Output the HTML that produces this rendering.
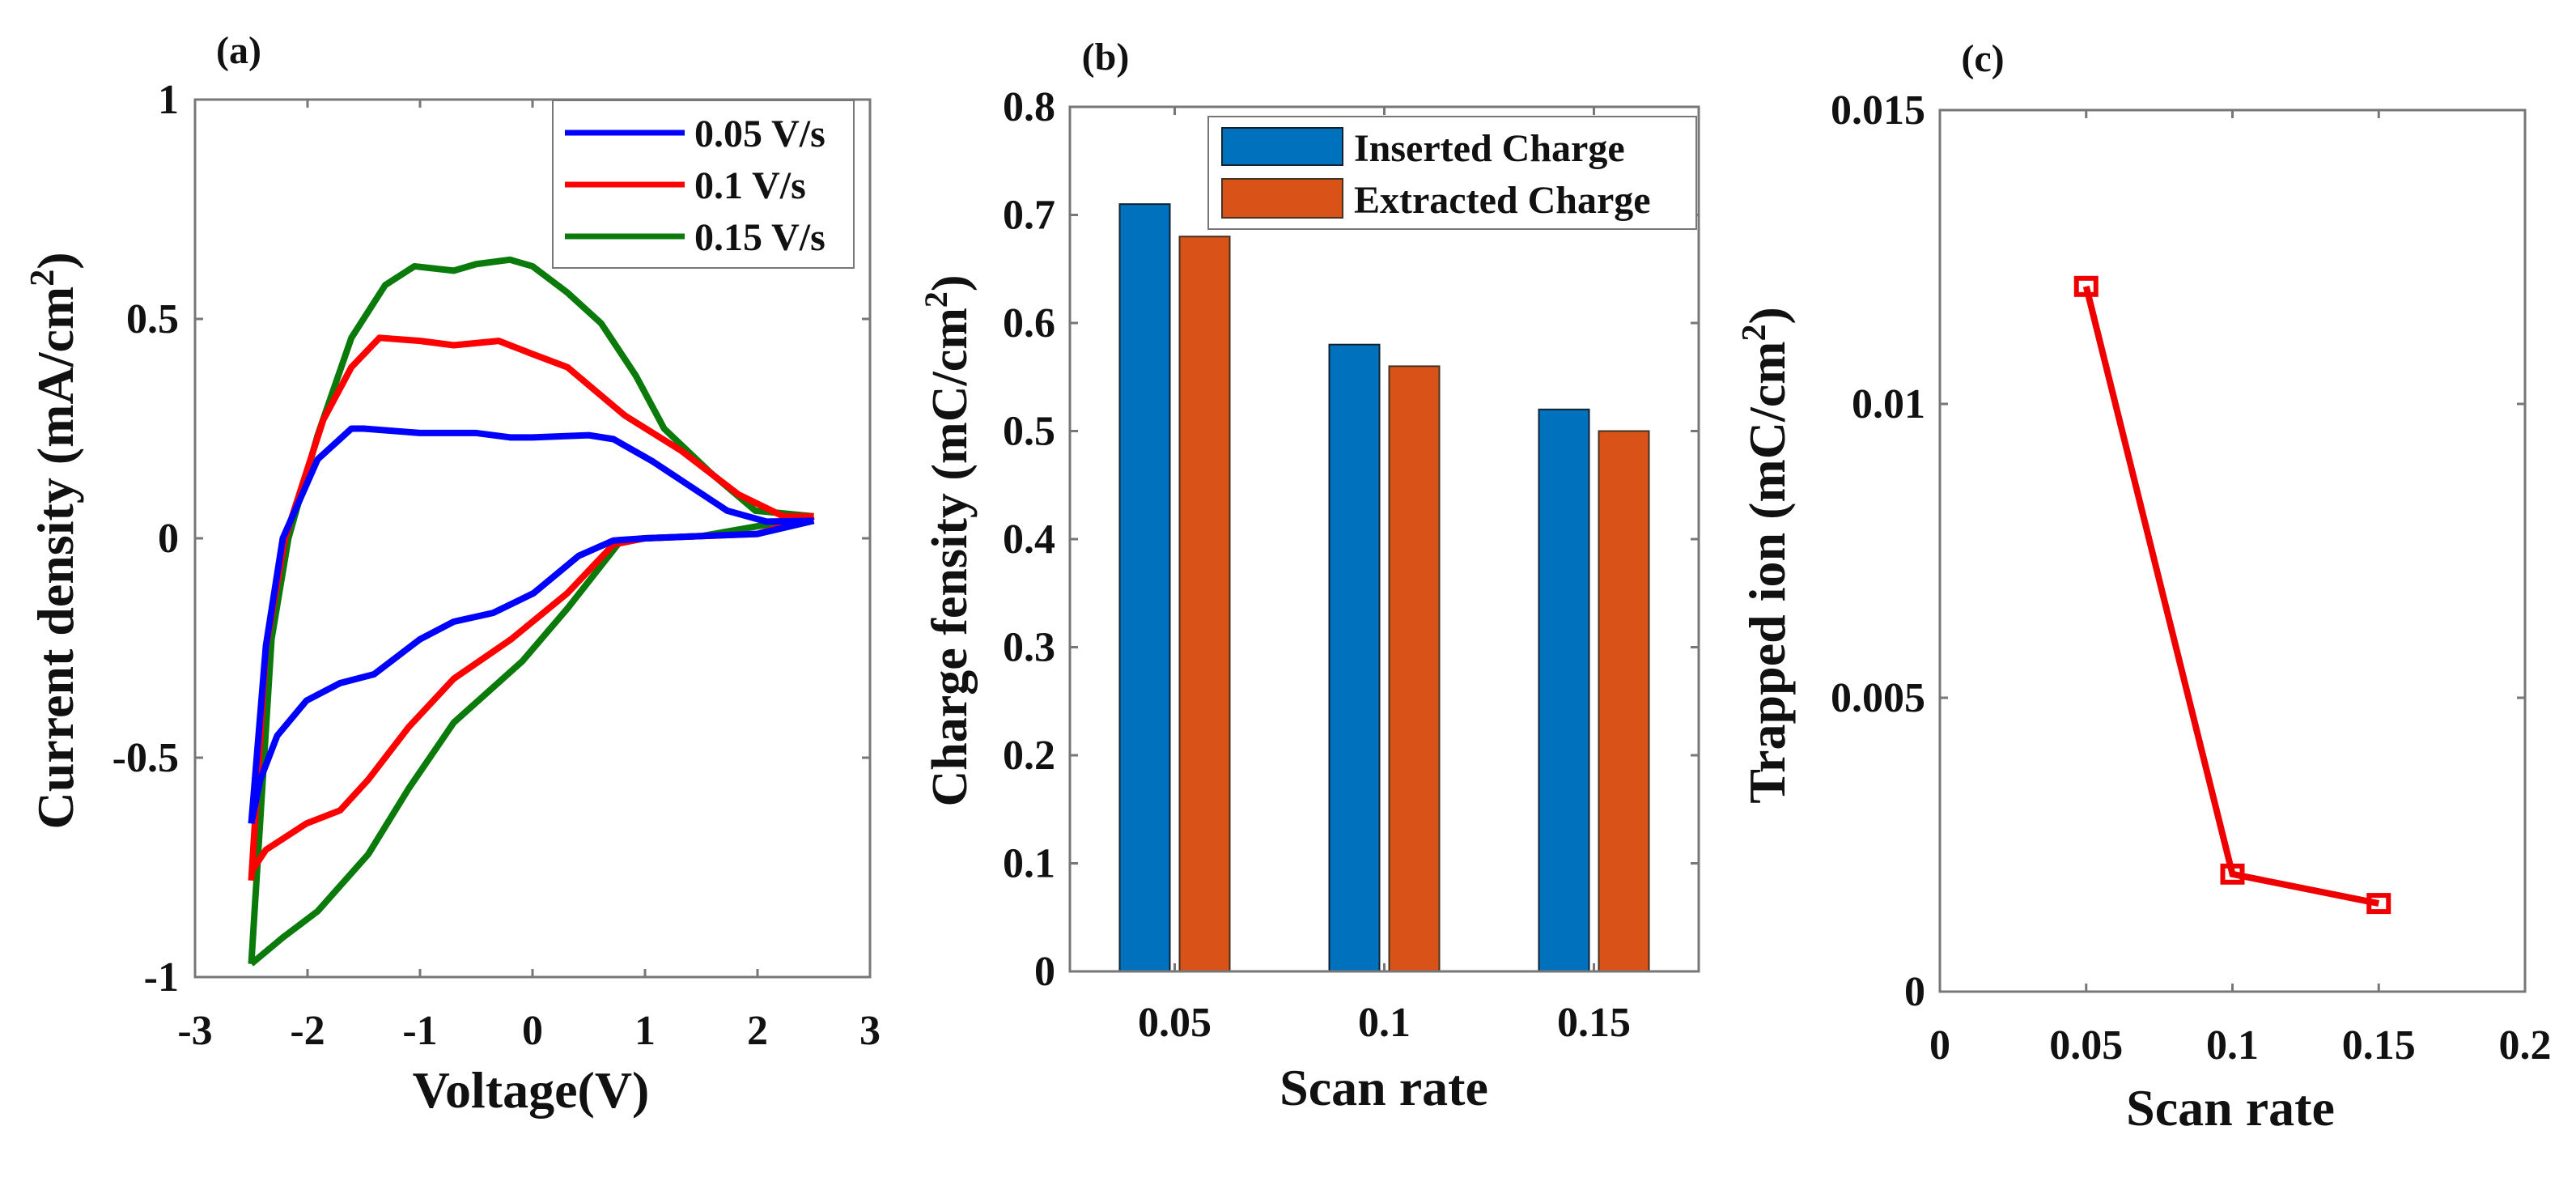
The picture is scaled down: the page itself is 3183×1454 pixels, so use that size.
<!DOCTYPE html>
<html><head><meta charset="utf-8"><style>
html,body{margin:0;padding:0;background:#fff;}
svg{display:block;}
text{font-family:"Liberation Serif",serif;font-weight:bold;fill:#111;}
</style></head><body>
<svg id="fig" width="3183" height="1454" xmlns="http://www.w3.org/2000/svg"></svg>
<script>
// ---- Panel (a) CV data ----
const blueUpV=[-2.5,-2.37,-2.22,-1.91,-1.61,-1.5,-1.0,-0.5,-0.2,0,0.5,0.72,1.07,1.73,2.08,2.5];
const blueUpI=[-0.65,-0.245,0,0.18,0.25,0.25,0.24,0.24,0.23,0.23,0.235,0.226,0.175,0.063,0.038,0.04];
const blueDnV=[2.5,2.0,1.5,1.0,0.72,0.41,0.01,-0.35,-0.7,-1.0,-1.41,-1.71,-2.01,-2.27,-2.42,-2.5];
const blueDnI=[0.04,0.01,0.005,0,-0.005,-0.04,-0.125,-0.17,-0.19,-0.23,-0.31,-0.33,-0.37,-0.45,-0.55,-0.65];
const redUpV=[-2.5,-2.37,-2.2,-1.86,-1.61,-1.36,-1.0,-0.7,-0.3,0,0.31,0.82,1.32,1.83,2.23,2.5];
const redUpI=[-0.78,-0.25,0,0.27,0.39,0.457,0.45,0.44,0.45,0.42,0.39,0.28,0.2,0.1,0.05,0.05];
const redDnV=[2.5,2.0,1.5,1.0,0.72,0.31,-0.19,-0.7,-1.1,-1.46,-1.71,-2.01,-2.37,-2.5];
const redDnI=[0.05,0.01,0.005,0,-0.014,-0.125,-0.23,-0.32,-0.43,-0.55,-0.62,-0.65,-0.71,-0.76];
const grnUpV=[-2.5,-2.32,-2.17,-1.91,-1.61,-1.31,-1.05,-0.7,-0.5,-0.2,0,0.31,0.61,0.92,1.17,1.58,1.98,2.5];
const grnUpI=[-0.97,-0.23,0,0.235,0.457,0.577,0.62,0.61,0.625,0.635,0.62,0.56,0.49,0.37,0.25,0.15,0.063,0.05];
const grnDnV=[2.5,1.5,1.0,0.77,0.31,-0.09,-0.7,-1.1,-1.46,-1.91,-2.22,-2.5];
const grnDnI=[0.05,0.005,0,-0.01,-0.16,-0.28,-0.42,-0.57,-0.72,-0.85,-0.91,-0.97];
const aXTicks=[-3,-2,-1,0,1,2,3];
const aYTicks=[-1,-0.5,0,0.5,1];
const aYTickLabels=["-1","-0.5","0","0.5","1"];
const aLegend=["0.05 V/s","0.1 V/s","0.15 V/s"];
// ---- Panel (b) bar data ----
const bCategories=["0.05","0.1","0.15"];
const insertedCharge=[0.71,0.58,0.52];
const extractedCharge=[0.68,0.56,0.50];
const bYTicks=[0,0.1,0.2,0.3,0.4,0.5,0.6,0.7,0.8];
// ---- Panel (c) data ----
const cX=[0.05,0.1,0.15];
const cY=[0.012,0.002,0.0015];
const cXTicks=[0,0.05,0.1,0.15,0.2];
const cXTickLabels=["0","0.05","0.1","0.15","0.2"];
const cYTicks=[0,0.005,0.01,0.015];
const cYTickLabels=["0","0.005","0.01","0.015"];

const NS="http://www.w3.org/2000/svg";
const svg=document.getElementById('fig');
function el(tag,attrs,parent){const e=document.createElementNS(NS,tag);for(const k in attrs)e.setAttribute(k,attrs[k]);(parent||svg).appendChild(e);return e;}
function txt(s,x,y,size,anchor,parent){const t=el('text',{x:x,y:y,'font-size':size,'text-anchor':anchor||'middle'},parent);t.textContent=s;return t;}
function lin(d0,d1,p0,p1){return v=>p0+(v-d0)/(d1-d0)*(p1-p0);}
function box(L,T,R,B,sx,sy,xt,yt,g){
  el('rect',{x:L,y:T,width:R-L,height:B-T,fill:'none',stroke:'#777','stroke-width':3},g);
  xt.forEach(v=>{const x=sx(v);el('line',{x1:x,y1:B,x2:x,y2:B-10,stroke:'#777','stroke-width':3},g);el('line',{x1:x,y1:T,x2:x,y2:T+10,stroke:'#777','stroke-width':3},g);});
  yt.forEach(v=>{const y=sy(v);el('line',{x1:L,y1:y,x2:L+10,y2:y,stroke:'#777','stroke-width':3},g);el('line',{x1:R,y1:y,x2:R-10,y2:y,stroke:'#777','stroke-width':3},g);});
}
const TS=52;
// ===== Panel A =====
const gA=el('g',{});


const aL=241,aR=1075,aT=123,aB=1207;
const axA=lin(-3,3,aL,aR), ayA=lin(-1,1,aB,aT);
box(aL,aT,aR,aB,axA,ayA,aXTicks,aYTicks,gA);
aXTicks.forEach(v=>{const t=txt(String(v),axA(v),1290,TS,'middle',gA);});
aYTicks.forEach((v,i)=>{const t=txt(aYTickLabels[i],aL-20,ayA(v)+17,TS,'end',gA);});
function curve(vs,is,color,name){
  const p=el('polyline',{points:vs.map((v,i)=>axA(v)+','+ayA(is[i])).join(' '),fill:'none',stroke:color,'stroke-width':8,'stroke-linejoin':'round'},gA);
  
  
}
curve(grnUpV,grnUpI,'#0a7a0a','cv-0.15-forward');curve(grnDnV,grnDnI,'#0a7a0a','cv-0.15-reverse');
curve(redUpV,redUpI,'#f00','cv-0.1-forward');curve(redDnV,redDnI,'#f00','cv-0.1-reverse');
curve(blueUpV,blueUpI,'#00f','cv-0.05-forward');curve(blueDnV,blueDnI,'#00f','cv-0.05-reverse');
const legA=el('g',{},gA);


el('rect',{x:683,y:124,width:372,height:207,fill:'#fff',stroke:'#777','stroke-width':2},legA);
const legCols=['#00f','#f00','#0a7a0a'];
aLegend.forEach((s,i)=>{const y=164+i*64;el('line',{x1:698,y1:y,x2:846,y2:y,stroke:legCols[i],'stroke-width':7},legA);const t=txt(s,858,y+17,48,'start',legA);});
let t;
t=txt('(a)',295,78,48,'middle',gA);
t=txt('Voltage(V)',656,1368,64,'middle',gA);
t=el('text',{x:90,y:668,'font-size':64,'text-anchor':'middle',transform:'rotate(-90 90 668)'},gA);
t.innerHTML='Current density (mA/cm<tspan dy="-24" font-size="42">2</tspan><tspan dy="24">)</tspan>';


// ===== Panel B =====
const gB=el('g',{});


const bL=1322,bR=2099,bT=132,bB=1200;
const axB=lin(0.5,3.5,bL,bR), ayB=lin(0,0.8,bB,bT);
const bw=62, off=37;
insertedCharge.forEach((v,i)=>{const r=el('rect',{x:axB(i+1)-off-bw/2,y:ayB(v),width:bw,height:ayB(0)-ayB(v),fill:'#0072bd',stroke:'#123','stroke-width':2},gB);});
extractedCharge.forEach((v,i)=>{const r=el('rect',{x:axB(i+1)+off-bw/2,y:ayB(v),width:bw,height:ayB(0)-ayB(v),fill:'#d95319',stroke:'#432','stroke-width':2},gB);});
box(bL,bT,bR,bB,axB,ayB,[1,2,3],bYTicks,gB);
bCategories.forEach((s,i)=>{const t=txt(s,axB(i+1),1280,TS,'middle',gB);});
bYTicks.forEach(v=>{const t=txt(v===0?'0':v.toFixed(1),bL-18,ayB(v)+17,TS,'end',gB);});
const legB=el('g',{},gB);


el('rect',{x:1493,y:144,width:603,height:139,fill:'#fff',stroke:'#777','stroke-width':2},legB);
el('rect',{x:1510,y:158,width:149,height:46,fill:'#0072bd',stroke:'#123','stroke-width':2},legB);
el('rect',{x:1510,y:221,width:149,height:48,fill:'#d95319',stroke:'#432','stroke-width':2},legB);
t=txt('Inserted Charge',1673,199,48,'start',legB);
t=txt('Extracted Charge',1673,263,48,'start',legB);
t=txt('(b)',1366,86,48,'middle',gB);
t=txt('Scan rate',1710,1365,64,'middle',gB);
t=el('text',{x:1194,y:668,'font-size':62,'text-anchor':'middle',transform:'rotate(-90 1194 668)'},gB);
t.innerHTML='Charge fensity (mC/cm<tspan dy="-24" font-size="40">2</tspan><tspan dy="24">)</tspan>';


// ===== Panel C =====
const gC=el('g',{});


const cL=2397,cR=3120,cT=136,cB=1225;
const axC=lin(0,0.2,cL,cR), ayC=lin(0,0.015,cB,cT);
box(cL,cT,cR,cB,axC,ayC,cXTicks,cYTicks,gC);
cXTicks.forEach((v,i)=>{const t=txt(cXTickLabels[i],axC(v),1308,TS,'middle',gC);});
cYTicks.forEach((v,i)=>{const t=txt(cYTickLabels[i],cL-18,ayC(v)+17,TS,'end',gC);});
const pl=el('polyline',{points:cX.map((v,i)=>axC(v)+','+ayC(cY[i])).join(' '),fill:'none',stroke:'#e00','stroke-width':8},gC);


cX.forEach((v,i)=>{const m=el('rect',{x:axC(v)-12,y:ayC(cY[i])-10,width:24,height:20,fill:'none',stroke:'#e00','stroke-width':6},gC);});
t=txt('(c)',2450,88,48,'middle',gC);
t=txt('Scan rate',2756,1390,64,'middle',gC);
t=el('text',{x:2205,y:686,'font-size':64,'text-anchor':'middle',transform:'rotate(-90 2205 686)'},gC);
t.innerHTML='Trapped ion (mC/cm<tspan dy="-24" font-size="42">2</tspan><tspan dy="24">)</tspan>';

</script>
</body></html>
